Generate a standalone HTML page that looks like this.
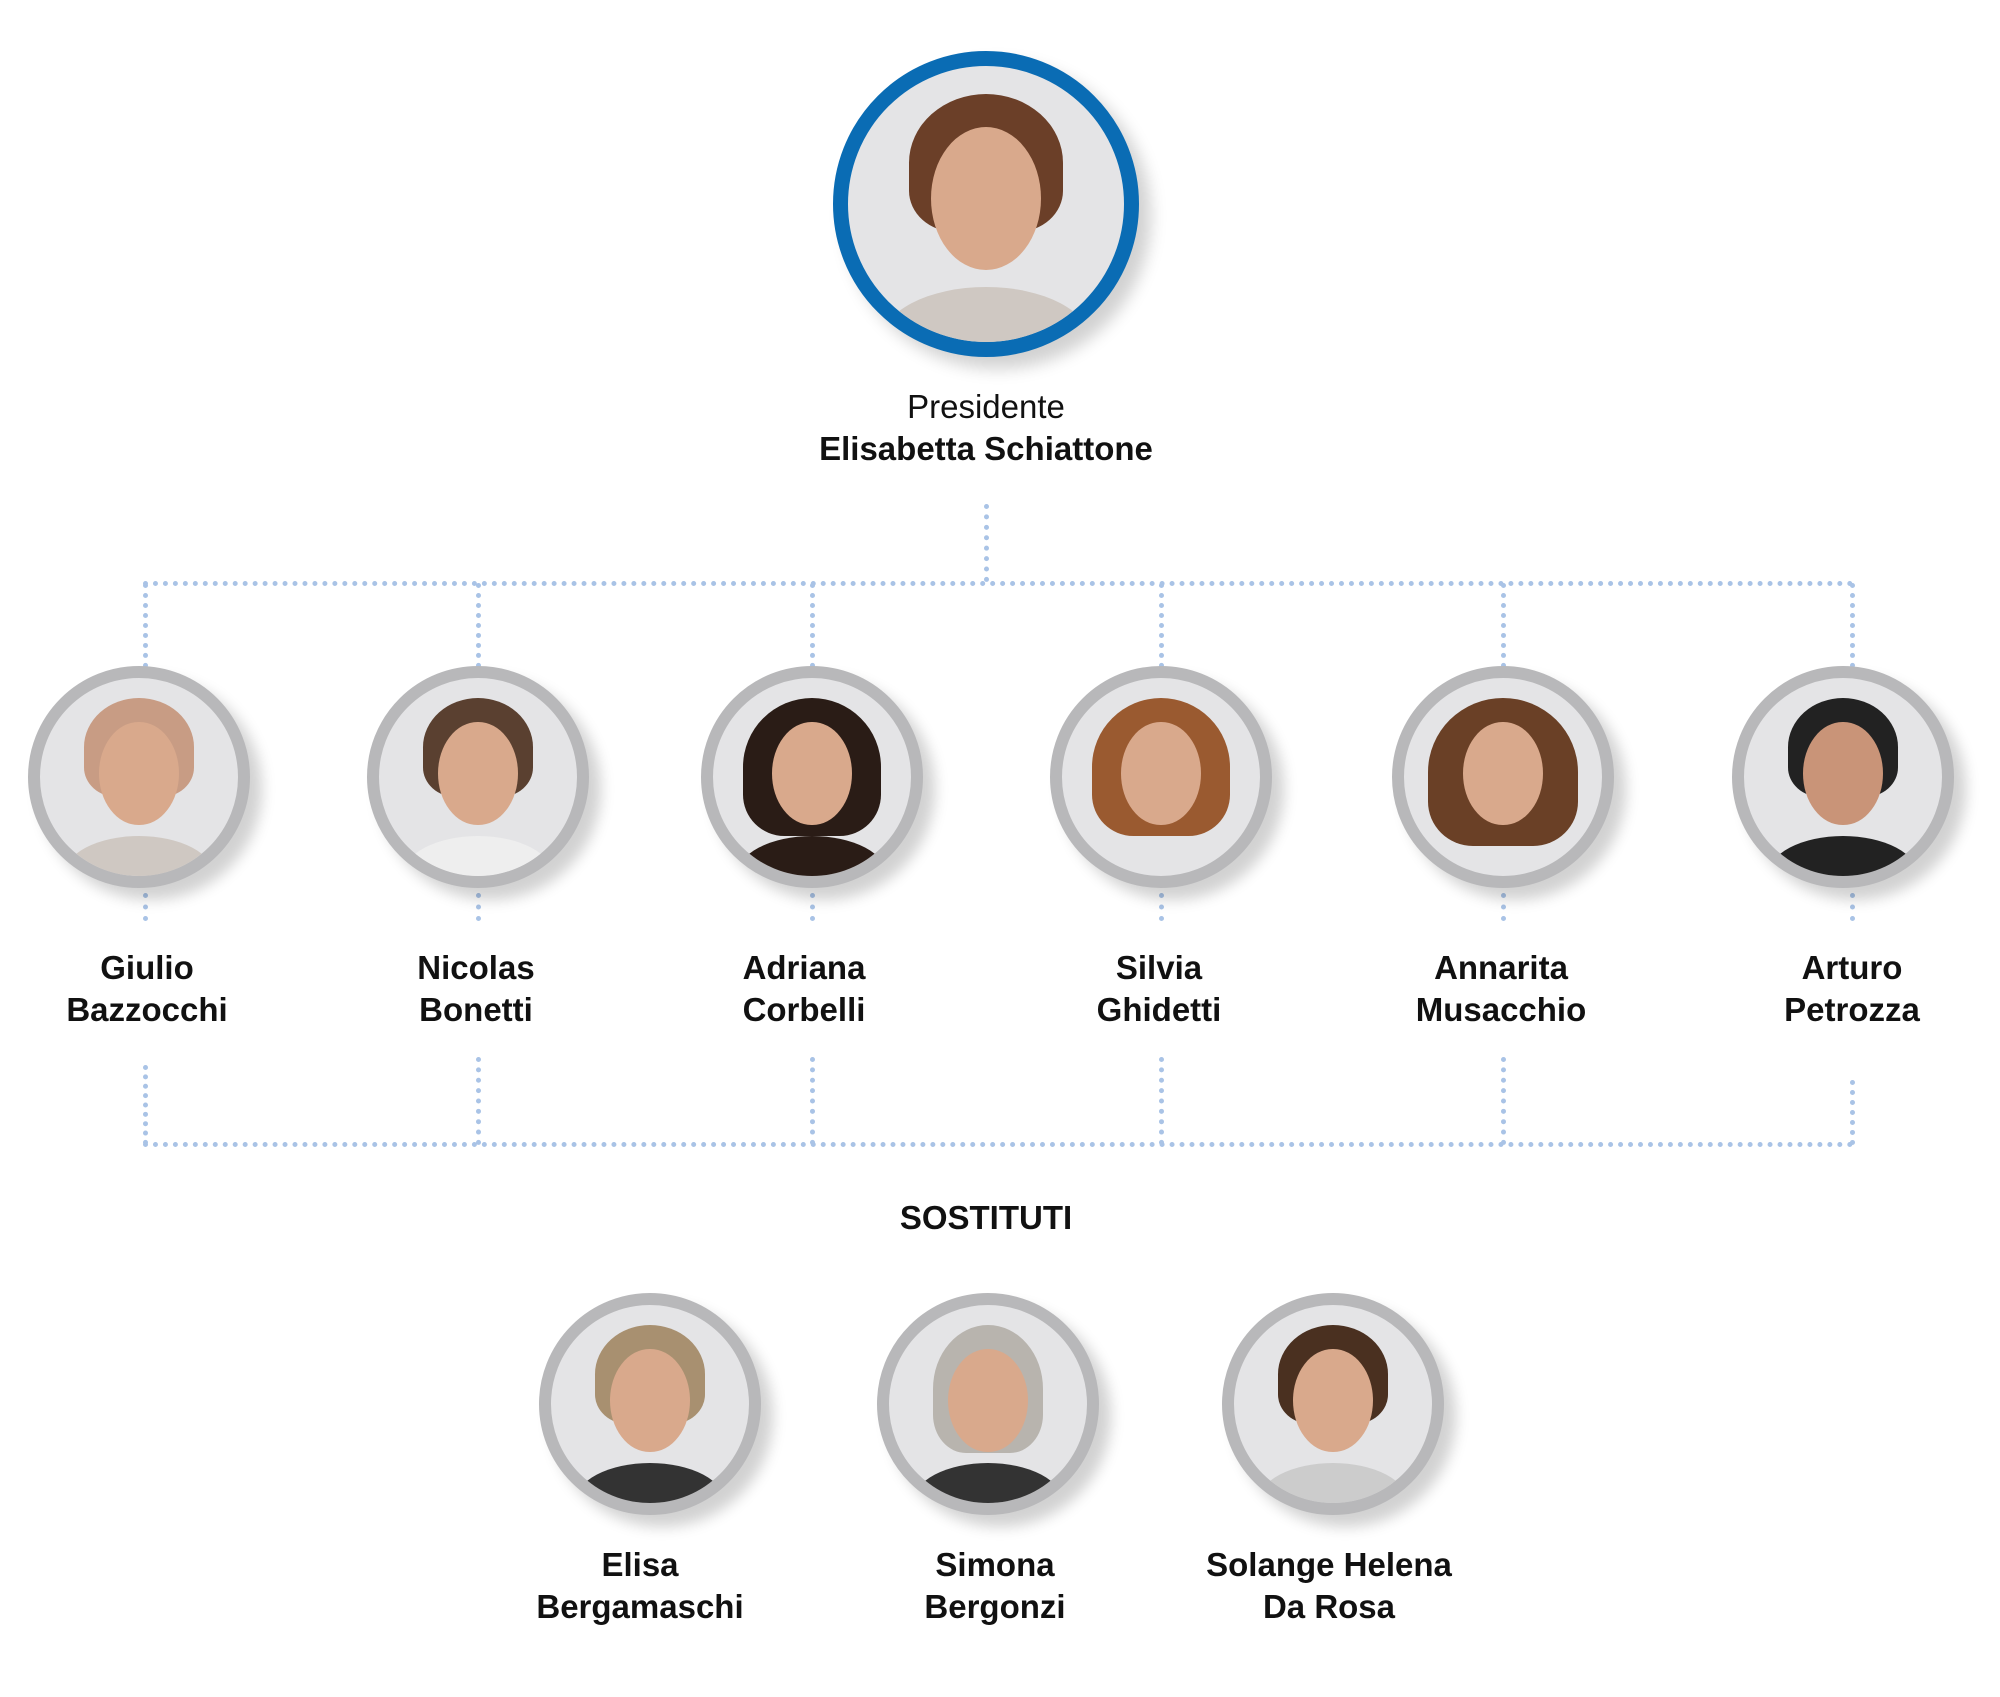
<!DOCTYPE html>
<html><head><meta charset="utf-8"><style>
body{margin:0;width:2000px;height:1697px;background:#fff;position:relative;overflow:hidden;font-family:"Liberation Sans","DejaVu Sans",sans-serif;color:#111}
.c{position:absolute;border-radius:50%;box-sizing:border-box;overflow:hidden;background:#e4e4e6}
.c.g{width:222px;height:222px;border:12px solid #b8b8ba;box-shadow:12px 12px 14px rgba(0,0,0,.18)}
.c.b{width:306px;height:306px;border:15px solid #0a6cb4;box-shadow:12px 12px 16px rgba(0,0,0,.18)}
.hd{position:absolute;left:30%;top:22%;width:40%;height:52%;border-radius:50%;background:#d9a98c}
.hr{position:absolute;left:22%;top:10%;width:56%;height:50%;border-radius:50% 50% 30% 30%;background:#6a4a35}
.bd{position:absolute;left:12%;top:80%;width:76%;height:40%;border-radius:50% 50% 0 0;background:#cfc8c2}
.t{position:absolute;text-align:center;font-weight:bold;font-size:33px;line-height:42px;width:300px;transform:translateX(-50%)}
.h{position:absolute;border-top:5px dotted #a9c3e6}
.v{position:absolute;border-left:5px dotted #a9c3e6}
</style></head><body>

<div class="c b" style="left:833px;top:51px"><div class="bd"></div><div class="hr" style="background:#6b3f28"></div><div class="hd"></div></div>
<div class="t" style="left:986px;top:386px;font-weight:normal">Presidente</div>
<div class="t" style="left:986px;top:428px;width:500px">Elisabetta Schiattone</div>

<div class="v" style="left:984px;top:504px;height:78px"></div>
<div class="h" style="left:143px;top:581px;width:1711px"></div>
<div class="h" style="left:143px;top:1142px;width:1711px"></div>

<!-- verticals -->
<div class="v" style="left:143px;top:583px;height:85px"></div>
<div class="v" style="left:476px;top:583px;height:85px"></div>
<div class="v" style="left:810px;top:583px;height:85px"></div>
<div class="v" style="left:1159px;top:583px;height:85px"></div>
<div class="v" style="left:1501px;top:583px;height:85px"></div>
<div class="v" style="left:1850px;top:583px;height:85px"></div>

<div class="v" style="left:143px;top:893px;height:28px"></div>
<div class="v" style="left:476px;top:893px;height:28px"></div>
<div class="v" style="left:810px;top:893px;height:28px"></div>
<div class="v" style="left:1159px;top:893px;height:28px"></div>
<div class="v" style="left:1501px;top:893px;height:28px"></div>
<div class="v" style="left:1850px;top:893px;height:28px"></div>

<div class="v" style="left:143px;top:1065px;height:80px"></div>
<div class="v" style="left:476px;top:1057px;height:88px"></div>
<div class="v" style="left:810px;top:1057px;height:88px"></div>
<div class="v" style="left:1159px;top:1057px;height:88px"></div>
<div class="v" style="left:1501px;top:1057px;height:88px"></div>
<div class="v" style="left:1850px;top:1080px;height:65px"></div>

<div class="c g" style="left:28px;top:666px"><div class="bd"></div><div class="hr" style="background:#c89c84"></div><div class="hd"></div></div>
<div class="c g" style="left:367px;top:666px"><div class="bd" style="background:#eee"></div><div class="hr" style="background:#5a4030"></div><div class="hd"></div></div>
<div class="c g" style="left:701px;top:666px"><div class="bd" style="background:#2a1c16"></div><div class="hr" style="background:#2a1c16;height:70%;left:15%;width:70%"></div><div class="hd"></div></div>
<div class="c g" style="left:1050px;top:666px"><div class="hr" style="background:#9a5a30;height:70%;left:15%;width:70%"></div><div class="hd"></div></div>
<div class="c g" style="left:1392px;top:666px"><div class="hr" style="background:#6a4026;height:75%;left:12%;width:76%"></div><div class="hd"></div></div>
<div class="c g" style="left:1732px;top:666px"><div class="bd" style="background:#222"></div><div class="hr" style="background:#222"></div><div class="hd" style="background:#c99478"></div></div>

<div class="t" style="left:147px;top:947px">Giulio<br>Bazzocchi</div>
<div class="t" style="left:476px;top:947px">Nicolas<br>Bonetti</div>
<div class="t" style="left:804px;top:947px">Adriana<br>Corbelli</div>
<div class="t" style="left:1159px;top:947px">Silvia<br>Ghidetti</div>
<div class="t" style="left:1501px;top:947px">Annarita<br>Musacchio</div>
<div class="t" style="left:1852px;top:947px">Arturo<br>Petrozza</div>

<div class="t" style="left:986px;top:1197px">SOSTITUTI</div>

<div class="c g" style="left:539px;top:1293px"><div class="bd" style="background:#333"></div><div class="hr" style="background:#a89070"></div><div class="hd"></div></div>
<div class="c g" style="left:877px;top:1293px"><div class="bd" style="background:#333"></div><div class="hr" style="background:#b8b4ae;height:65%"></div><div class="hd"></div></div>
<div class="c g" style="left:1222px;top:1293px"><div class="bd" style="background:#ccc"></div><div class="hr" style="background:#4a3020"></div><div class="hd"></div></div>

<div class="t" style="left:640px;top:1544px">Elisa<br>Bergamaschi</div>
<div class="t" style="left:995px;top:1544px">Simona<br>Bergonzi</div>
<div class="t" style="left:1329px;top:1544px">Solange Helena<br>Da Rosa</div>
</body></html>
